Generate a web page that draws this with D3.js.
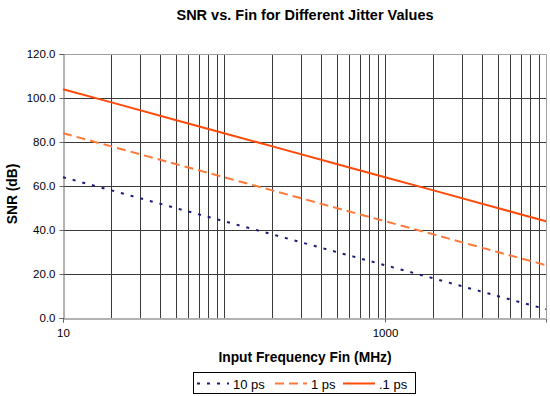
<!DOCTYPE html>
<html><head><meta charset="utf-8">
<script src="https://cdn.jsdelivr.net/npm/d3@7"></script>
<style>body{margin:0;background:#fff}svg{display:block}text{font-family:Arial,"Liberation Sans",sans-serif}</style>
</head><body><svg id="c" width="550" height="396"></svg>
<script>
const freqs = [10, 20, 50, 100, 200, 500, 1000, 2000, 5000, 10000];
const snr10ps = [64.0, 58.0, 50.0, 44.0, 38.0, 30.0, 24.0, 18.0, 10.0, 4.0];
const snr1ps = [84.0, 78.0, 70.0, 64.0, 58.0, 50.0, 44.0, 38.0, 30.0, 24.0];
const snr01ps = [104.0, 98.0, 90.0, 84.0, 78.0, 70.0, 64.0, 58.0, 50.0, 44.0];
const seriesNames = ["10 ps", "1 ps", ".1 ps"];
const yTicks = [0, 20, 40, 60, 80, 100, 120];
const xTickLabels = [10, 1000];

const svg = d3.select("#c");
const L = 63, R = 546, T = 54, B = 318;
const x = d3.scaleLog().domain([10, 10000]).range([L, R]);
const y = d3.scaleLinear().domain([0, 120]).range([B, T]);

// vertical gridlines
const vgrid = [];
[10, 100, 1000].forEach(d => { for (let k = 1; k <= 9; k++) vgrid.push(d * k); });
const vg = vgrid.filter(v => v > 10 && v < 10000);
svg.append("g").selectAll("line").data(vg).join("line")
  .attr("x1", d => Math.round(x(d)) + 0.5).attr("x2", d => Math.round(x(d)) + 0.5)
  .attr("y1", T).attr("y2", B).attr("stroke", "#3a3a3a").attr("stroke-width", 1);
// horizontal gridlines
svg.append("g").selectAll("line").data(yTicks.filter(v => v > 0 && v < 120)).join("line")
  .attr("x1", L).attr("x2", R).attr("y1", d => Math.round(y(d)) + 0.5).attr("y2", d => Math.round(y(d)) + 0.5)
  .attr("stroke", "#3a3a3a").attr("stroke-width", 1);
// border top/right
svg.append("path").attr("d", `M${L},${T+0.5}H${R+0.5}V${B}`).attr("fill", "none").attr("stroke", "#a0a0a0");

// y axis
const yAxis = d3.axisLeft(y).tickValues(yTicks).tickFormat(d3.format(".1f")).tickSize(4).tickPadding(4);
const ya = svg.append("g").attr("transform", `translate(${L + 0.5},0)`).call(yAxis);
ya.select(".domain").attr("stroke", "#666");
ya.selectAll(".tick line").attr("stroke", "#666");
ya.selectAll("text").attr("font-size", 11.5).attr("fill", "#000");

// x axis
const xAxis = d3.axisBottom(x).tickValues(xTickLabels).tickFormat(d3.format("d")).tickSize(4).tickPadding(6);
const xa = svg.append("g").attr("transform", `translate(0,${B + 0.5})`).call(xAxis);
xa.select(".domain").attr("stroke", "#666");
xa.selectAll(".tick line").attr("stroke", "#666");
xa.selectAll("text").attr("font-size", 11.5).attr("fill", "#000");

// series
const series = [
  {name: seriesNames[0], vals: snr10ps, color: "#1c1c78", dash: "3,7"},
  {name: seriesNames[1], vals: snr1ps, color: "#ff7a3a", dash: "9,5"},
  {name: seriesNames[2], vals: snr01ps, color: "#ff4a0a", dash: null}
];
const line = d3.line().x((d, i) => x(freqs[i])).y(d => y(d));
series.forEach(s => {
  svg.append("path").datum(s.vals).attr("d", line).attr("fill", "none")
    .attr("stroke", s.color).attr("stroke-width", 2).attr("stroke-dasharray", s.dash);
});

// titles
svg.append("text").attr("x", 305).attr("y", 20).attr("text-anchor", "middle")
  .attr("font-size", 14.5).attr("font-weight", "bold").text("SNR vs. Fin for Different Jitter Values");
svg.append("text").attr("x", 305).attr("y", 362).attr("text-anchor", "middle")
  .attr("font-size", 13.8).attr("font-weight", "bold").text("Input Frequency Fin (MHz)");
svg.append("text").attr("transform", "translate(17,194) rotate(-90)").attr("text-anchor", "middle")
  .attr("font-size", 13.8).attr("font-weight", "bold").text("SNR (dB)");

// legend
const lg = svg.append("g");
lg.append("rect").attr("x", 193.5).attr("y", 372.5).attr("width", 222).attr("height", 21)
  .attr("fill", "#fff").attr("stroke", "#000");
const lx = [197, 275, 343];
series.forEach((s, i) => {
  lg.append("line").attr("x1", lx[i]).attr("x2", lx[i] + 32).attr("y1", 383.5).attr("y2", 383.5)
    .attr("stroke", s.color).attr("stroke-width", 2).attr("stroke-dasharray", s.dash);
  lg.append("text").attr("x", lx[i] + 36).attr("y", 388.5).attr("font-size", 13).text(s.name);
});
</script></body></html>
